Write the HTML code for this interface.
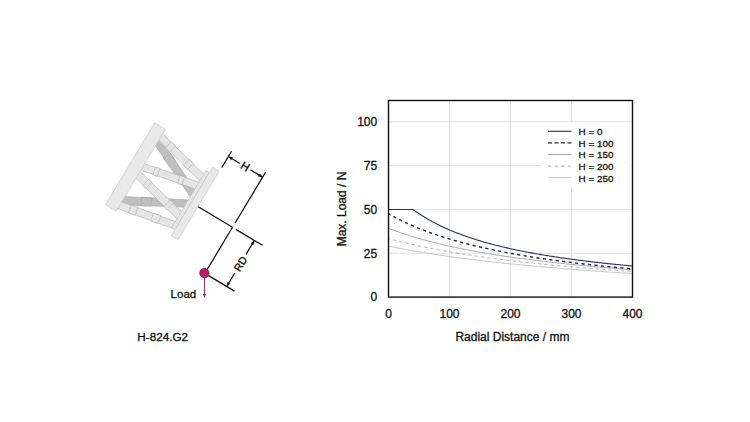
<!DOCTYPE html>
<html><head><meta charset="utf-8"><style>
html,body{margin:0;padding:0;background:#fff;}
svg{display:block;}
.t{font-family:"Liberation Sans",Arial,sans-serif;font-size:12px;fill:#111;stroke:#111;stroke-width:0.3px;}
.lg{font-family:"Liberation Sans",Arial,sans-serif;font-size:9.9px;fill:#111;stroke:#111;stroke-width:0.3px;}
.d{font-family:"Liberation Sans",Arial,sans-serif;font-size:11.5px;fill:#111;stroke:#111;stroke-width:0.3px;}
</style></head><body>
<svg width="750" height="422" viewBox="0 0 750 422">
<rect width="750" height="422" fill="#fff"/>
<g transform="translate(232.5,227.3) rotate(31)">
<polygon points="-109.00,-39.50 -51.00,-12.50 -51.00,-4.00 -109.00,-30.70" fill="#bfbfbf" stroke="#a6a6a6" stroke-width="0.6"/>
<polygon points="-90.97,-31.44 -82.86,-27.67 -86.42,-19.98 -94.55,-23.72" fill="#bfbfbf" stroke="#a6a6a6" stroke-width="0.6"/>
<polygon points="-109.00,29.50 -51.00,-1.10 -51.00,7.20 -109.00,39.00" fill="#bfbfbf" stroke="#a6a6a6" stroke-width="0.6"/>
<polygon points="-93.65,21.08 -84.91,16.47 -80.89,23.95 -89.55,28.70" fill="#bfbfbf" stroke="#a6a6a6" stroke-width="0.6"/>
<polygon points="-109.00,-44.30 -51.00,-30.50 -51.00,-22.50 -109.00,-36.80" fill="#e5e5e5" stroke="#b3b3b3" stroke-width="0.6"/>
<polygon points="-96.41,-41.82 -90.61,-40.43 -92.59,-32.24 -98.39,-33.66" fill="#e5e5e5" stroke="#b3b3b3" stroke-width="0.6"/>
<polygon points="-72.03,-36.01 -66.22,-34.63 -68.26,-26.24 -74.05,-27.66" fill="#e5e5e5" stroke="#b3b3b3" stroke-width="0.6"/>
<polygon points="-109.00,-9.00 -51.00,-21.50 -51.00,-13.80 -109.00,-1.50" fill="#e5e5e5" stroke="#b3b3b3" stroke-width="0.6"/>
<polygon points="-97.12,-12.07 -92.48,-13.07 -90.72,-4.87 -95.36,-3.88" fill="#e5e5e5" stroke="#b3b3b3" stroke-width="0.6"/>
<polygon points="-71.60,-17.57 -66.97,-18.57 -65.19,-10.28 -69.84,-9.30" fill="#e5e5e5" stroke="#b3b3b3" stroke-width="0.6"/>
<polygon points="-109.00,-0.50 -51.00,13.00 -51.00,21.50 -109.00,7.50" fill="#e5e5e5" stroke="#b3b3b3" stroke-width="0.6"/>
<polygon points="-96.38,1.93 -92.31,2.87 -94.37,11.55 -98.42,10.57" fill="#e5e5e5" stroke="#b3b3b3" stroke-width="0.6"/>
<polygon points="-67.35,8.69 -63.28,9.63 -65.40,18.54 -69.45,17.56" fill="#e5e5e5" stroke="#b3b3b3" stroke-width="0.6"/>
<polygon points="-109.00,35.50 -51.00,24.30 -51.00,31.80 -109.00,43.20" fill="#e5e5e5" stroke="#b3b3b3" stroke-width="0.6"/>
<polygon points="-98.21,32.91 -91.25,31.56 -89.63,39.90 -96.59,41.27" fill="#e5e5e5" stroke="#b3b3b3" stroke-width="0.6"/>
<polygon points="-75.01,28.43 -67.46,26.97 -65.86,35.23 -73.39,36.71" fill="#e5e5e5" stroke="#b3b3b3" stroke-width="0.6"/>
<polygon points="-120.50,-49.50 -108.00,-49.50 -108.00,46.00 -120.50,46.00" fill="#e9e9e9" stroke="#c4c4c4" stroke-width="0.6"/>
<polygon points="-52.00,-35.00 -48.00,-35.00 -48.00,32.00 -52.00,32.00" fill="#e6e6e6" stroke="#bdbdbd" stroke-width="0.6"/>
<polygon points="-48.00,-41.20 -40.30,-41.20 -40.30,38.60 -48.00,38.60" fill="#e9e9e9" stroke="#c4c4c4" stroke-width="0.6"/>
<line x1="-40" y1="0" x2="0" y2="0" stroke="#111" stroke-width="1.25"/>
<line x1="0" y1="0" x2="0" y2="53.7" stroke="#111" stroke-width="1.25"/>
<line x1="-40" y1="-45.6" x2="-40" y2="-64.7" stroke="#111" stroke-width="1.25"/>
<line x1="0" y1="-4.7" x2="0" y2="-64.3" stroke="#111" stroke-width="1.25"/>
<line x1="-40" y1="-58.5" x2="-26.5" y2="-58.5" stroke="#111" stroke-width="1.25"/>
<line x1="-14.3" y1="-58.5" x2="0" y2="-58.5" stroke="#111" stroke-width="1.25"/>
<polygon points="-40,-58.5 -35.80,-60.20 -35.80,-56.80" fill="#111"/>
<polygon points="0,-58.5 -4.20,-56.80 -4.20,-60.20" fill="#111"/>
<line x1="4" y1="0" x2="35" y2="0" stroke="#111" stroke-width="1.25"/>
<line x1="4" y1="53.7" x2="34.5" y2="53.7" stroke="#111" stroke-width="1.25"/>
<line x1="25.5" y1="0" x2="25.5" y2="16.2" stroke="#111" stroke-width="1.25"/>
<line x1="25.5" y1="38" x2="25.5" y2="53.7" stroke="#111" stroke-width="1.25"/>
<polygon points="25.5,0 27.20,4.20 23.80,4.20" fill="#111"/>
<polygon points="25.5,53.7 23.80,49.50 27.20,49.50" fill="#111"/>
<text x="-20.35" y="-54.9" text-anchor="middle" class="d" style="font-size:11.2px">H</text>
<text transform="translate(29.4,27.1) rotate(-90)" text-anchor="middle" class="d" style="font-size:10.6px">RD</text>
</g>
<line x1="204.4" y1="273.1" x2="204.4" y2="295" stroke="#a8175f" stroke-width="1"/>
<polygon points="204.4,298 202.8,294 206.0,294" fill="#a8175f"/>
<circle cx="204.4" cy="273.1" r="4.6" fill="#bd1a6b" stroke="#7e0f47" stroke-width="0.9"/>
<text x="170.6" y="297.7" class="d">Load</text>
<text x="137.3" y="340.7" class="t" style="font-size:11.7px">H-824.G2</text>
<line x1="449.50" y1="100.71" x2="449.50" y2="297.1" stroke="#e2e2e2" stroke-width="1"/>
<line x1="510.50" y1="100.71" x2="510.50" y2="297.1" stroke="#e2e2e2" stroke-width="1"/>
<line x1="571.50" y1="100.71" x2="571.50" y2="297.1" stroke="#e2e2e2" stroke-width="1"/>
<line x1="388.5" y1="253.26" x2="632.50" y2="253.26" stroke="#e2e2e2" stroke-width="1"/>
<line x1="388.5" y1="209.43" x2="632.50" y2="209.43" stroke="#e2e2e2" stroke-width="1"/>
<line x1="388.5" y1="165.59" x2="632.50" y2="165.59" stroke="#e2e2e2" stroke-width="1"/>
<line x1="388.5" y1="121.75" x2="632.50" y2="121.75" stroke="#e2e2e2" stroke-width="1"/>
<path d="M388.50,246.23 L389.72,246.47 L390.94,246.72 L392.16,246.96 L393.38,247.20 L394.60,247.44 L395.82,247.68 L397.04,247.92 L398.26,248.15 L399.48,248.38 L400.70,248.61 L401.92,248.84 L403.14,249.07 L404.36,249.29 L405.58,249.51 L406.80,249.74 L408.02,249.96 L409.24,250.17 L410.46,250.39 L411.68,250.60 L412.90,250.82 L414.12,251.03 L415.34,251.24 L416.56,251.45 L417.78,251.65 L419.00,251.86 L420.22,252.06 L421.44,252.26 L422.66,252.46 L423.88,252.66 L425.10,252.86 L426.32,253.06 L427.54,253.25 L428.76,253.44 L429.98,253.64 L431.20,253.83 L432.42,254.02 L433.64,254.20 L434.86,254.39 L436.08,254.58 L437.30,254.76 L438.52,254.94 L439.74,255.12 L440.96,255.30 L442.18,255.48 L443.40,255.66 L444.62,255.84 L445.84,256.01 L447.06,256.19 L448.28,256.36 L449.50,256.53 L450.72,256.70 L451.94,256.87 L453.16,257.04 L454.38,257.21 L455.60,257.37 L456.82,257.54 L458.04,257.70 L459.26,257.86 L460.48,258.03 L461.70,258.19 L462.92,258.35 L464.14,258.50 L465.36,258.66 L466.58,258.82 L467.80,258.97 L469.02,259.13 L470.24,259.28 L471.46,259.43 L472.68,259.58 L473.90,259.73 L475.12,259.88 L476.34,260.03 L477.56,260.18 L478.78,260.33 L480.00,260.47 L481.22,260.62 L482.44,260.76 L483.66,260.90 L484.88,261.05 L486.10,261.19 L487.32,261.33 L488.54,261.47 L489.76,261.61 L490.98,261.75 L492.20,261.88 L493.42,262.02 L494.64,262.15 L495.86,262.29 L497.08,262.42 L498.30,262.55 L499.52,262.69 L500.74,262.82 L501.96,262.95 L503.18,263.08 L504.40,263.21 L505.62,263.34 L506.84,263.46 L508.06,263.59 L509.28,263.72 L510.50,263.84 L511.72,263.97 L512.94,264.09 L514.16,264.21 L515.38,264.34 L516.60,264.46 L517.82,264.58 L519.04,264.70 L520.26,264.82 L521.48,264.94 L522.70,265.06 L523.92,265.17 L525.14,265.29 L526.36,265.41 L527.58,265.52 L528.80,265.64 L530.02,265.75 L531.24,265.87 L532.46,265.98 L533.68,266.09 L534.90,266.20 L536.12,266.32 L537.34,266.43 L538.56,266.54 L539.78,266.65 L541.00,266.76 L542.22,266.86 L543.44,266.97 L544.66,267.08 L545.88,267.19 L547.10,267.29 L548.32,267.40 L549.54,267.50 L550.76,267.61 L551.98,267.71 L553.20,267.81 L554.42,267.92 L555.64,268.02 L556.86,268.12 L558.08,268.22 L559.30,268.32 L560.52,268.42 L561.74,268.52 L562.96,268.62 L564.18,268.72 L565.40,268.82 L566.62,268.91 L567.84,269.01 L569.06,269.11 L570.28,269.20 L571.50,269.30 L572.72,269.39 L573.94,269.49 L575.16,269.58 L576.38,269.68 L577.60,269.77 L578.82,269.86 L580.04,269.95 L581.26,270.05 L582.48,270.14 L583.70,270.23 L584.92,270.32 L586.14,270.41 L587.36,270.50 L588.58,270.59 L589.80,270.68 L591.02,270.76 L592.24,270.85 L593.46,270.94 L594.68,271.03 L595.90,271.11 L597.12,271.20 L598.34,271.28 L599.56,271.37 L600.78,271.45 L602.00,271.54 L603.22,271.62 L604.44,271.71 L605.66,271.79 L606.88,271.87 L608.10,271.96 L609.32,272.04 L610.54,272.12 L611.76,272.20 L612.98,272.28 L614.20,272.36 L615.42,272.44 L616.64,272.52 L617.86,272.60 L619.08,272.68 L620.30,272.76 L621.52,272.84 L622.74,272.92 L623.96,272.99 L625.18,273.07 L626.40,273.15 L627.62,273.22 L628.84,273.30 L630.06,273.38 L631.28,273.45 L632.50,273.53" fill="none" stroke="#c2c2c7" stroke-width="1.0"/>
<path d="M388.50,238.55 L389.72,238.88 L390.94,239.21 L392.16,239.54 L393.38,239.86 L394.60,240.18 L395.82,240.49 L397.04,240.81 L398.26,241.12 L399.48,241.42 L400.70,241.73 L401.92,242.03 L403.14,242.32 L404.36,242.62 L405.58,242.91 L406.80,243.20 L408.02,243.49 L409.24,243.77 L410.46,244.05 L411.68,244.33 L412.90,244.60 L414.12,244.88 L415.34,245.15 L416.56,245.41 L417.78,245.68 L419.00,245.94 L420.22,246.20 L421.44,246.46 L422.66,246.72 L423.88,246.97 L425.10,247.22 L426.32,247.47 L427.54,247.72 L428.76,247.97 L429.98,248.21 L431.20,248.45 L432.42,248.69 L433.64,248.92 L434.86,249.16 L436.08,249.39 L437.30,249.62 L438.52,249.85 L439.74,250.08 L440.96,250.30 L442.18,250.52 L443.40,250.74 L444.62,250.96 L445.84,251.18 L447.06,251.40 L448.28,251.61 L449.50,251.82 L450.72,252.03 L451.94,252.24 L453.16,252.45 L454.38,252.65 L455.60,252.86 L456.82,253.06 L458.04,253.26 L459.26,253.46 L460.48,253.65 L461.70,253.85 L462.92,254.04 L464.14,254.24 L465.36,254.43 L466.58,254.62 L467.80,254.81 L469.02,254.99 L470.24,255.18 L471.46,255.36 L472.68,255.54 L473.90,255.72 L475.12,255.90 L476.34,256.08 L477.56,256.26 L478.78,256.44 L480.00,256.61 L481.22,256.78 L482.44,256.95 L483.66,257.13 L484.88,257.29 L486.10,257.46 L487.32,257.63 L488.54,257.79 L489.76,257.96 L490.98,258.12 L492.20,258.28 L493.42,258.45 L494.64,258.61 L495.86,258.76 L497.08,258.92 L498.30,259.08 L499.52,259.23 L500.74,259.39 L501.96,259.54 L503.18,259.69 L504.40,259.84 L505.62,259.99 L506.84,260.14 L508.06,260.29 L509.28,260.44 L510.50,260.58 L511.72,260.73 L512.94,260.87 L514.16,261.02 L515.38,261.16 L516.60,261.30 L517.82,261.44 L519.04,261.58 L520.26,261.72 L521.48,261.85 L522.70,261.99 L523.92,262.13 L525.14,262.26 L526.36,262.40 L527.58,262.53 L528.80,262.66 L530.02,262.79 L531.24,262.92 L532.46,263.05 L533.68,263.18 L534.90,263.31 L536.12,263.44 L537.34,263.56 L538.56,263.69 L539.78,263.81 L541.00,263.94 L542.22,264.06 L543.44,264.18 L544.66,264.30 L545.88,264.42 L547.10,264.54 L548.32,264.66 L549.54,264.78 L550.76,264.90 L551.98,265.02 L553.20,265.13 L554.42,265.25 L555.64,265.37 L556.86,265.48 L558.08,265.59 L559.30,265.71 L560.52,265.82 L561.74,265.93 L562.96,266.04 L564.18,266.15 L565.40,266.26 L566.62,266.37 L567.84,266.48 L569.06,266.59 L570.28,266.70 L571.50,266.80 L572.72,266.91 L573.94,267.01 L575.16,267.12 L576.38,267.22 L577.60,267.33 L578.82,267.43 L580.04,267.53 L581.26,267.63 L582.48,267.73 L583.70,267.83 L584.92,267.94 L586.14,268.03 L587.36,268.13 L588.58,268.23 L589.80,268.33 L591.02,268.43 L592.24,268.52 L593.46,268.62 L594.68,268.72 L595.90,268.81 L597.12,268.91 L598.34,269.00 L599.56,269.09 L600.78,269.19 L602.00,269.28 L603.22,269.37 L604.44,269.46 L605.66,269.55 L606.88,269.65 L608.10,269.74 L609.32,269.83 L610.54,269.91 L611.76,270.00 L612.98,270.09 L614.20,270.18 L615.42,270.27 L616.64,270.35 L617.86,270.44 L619.08,270.53 L620.30,270.61 L621.52,270.70 L622.74,270.78 L623.96,270.87 L625.18,270.95 L626.40,271.03 L627.62,271.12 L628.84,271.20 L630.06,271.28 L631.28,271.36 L632.50,271.44" fill="none" stroke="#aaaab2" stroke-width="1.0" stroke-dasharray="3.2 3.2" stroke-dashoffset="1.7"/>
<path d="M388.50,228.29 L389.72,228.76 L390.94,229.23 L392.16,229.68 L393.38,230.14 L394.60,230.58 L395.82,231.02 L397.04,231.46 L398.26,231.89 L399.48,232.31 L400.70,232.73 L401.92,233.15 L403.14,233.56 L404.36,233.96 L405.58,234.36 L406.80,234.76 L408.02,235.15 L409.24,235.53 L410.46,235.91 L411.68,236.29 L412.90,236.66 L414.12,237.03 L415.34,237.40 L416.56,237.76 L417.78,238.12 L419.00,238.47 L420.22,238.82 L421.44,239.16 L422.66,239.50 L423.88,239.84 L425.10,240.18 L426.32,240.51 L427.54,240.83 L428.76,241.16 L429.98,241.48 L431.20,241.79 L432.42,242.11 L433.64,242.42 L434.86,242.72 L436.08,243.03 L437.30,243.33 L438.52,243.63 L439.74,243.92 L440.96,244.21 L442.18,244.50 L443.40,244.79 L444.62,245.07 L445.84,245.35 L447.06,245.63 L448.28,245.90 L449.50,246.18 L450.72,246.45 L451.94,246.71 L453.16,246.98 L454.38,247.24 L455.60,247.50 L456.82,247.76 L458.04,248.01 L459.26,248.26 L460.48,248.51 L461.70,248.76 L462.92,249.01 L464.14,249.25 L465.36,249.49 L466.58,249.73 L467.80,249.96 L469.02,250.20 L470.24,250.43 L471.46,250.66 L472.68,250.89 L473.90,251.12 L475.12,251.34 L476.34,251.56 L477.56,251.78 L478.78,252.00 L480.00,252.22 L481.22,252.43 L482.44,252.64 L483.66,252.86 L484.88,253.06 L486.10,253.27 L487.32,253.48 L488.54,253.68 L489.76,253.88 L490.98,254.08 L492.20,254.28 L493.42,254.48 L494.64,254.68 L495.86,254.87 L497.08,255.06 L498.30,255.25 L499.52,255.44 L500.74,255.63 L501.96,255.82 L503.18,256.00 L504.40,256.19 L505.62,256.37 L506.84,256.55 L508.06,256.73 L509.28,256.90 L510.50,257.08 L511.72,257.26 L512.94,257.43 L514.16,257.60 L515.38,257.77 L516.60,257.94 L517.82,258.11 L519.04,258.28 L520.26,258.44 L521.48,258.61 L522.70,258.77 L523.92,258.93 L525.14,259.09 L526.36,259.25 L527.58,259.41 L528.80,259.57 L530.02,259.72 L531.24,259.88 L532.46,260.03 L533.68,260.19 L534.90,260.34 L536.12,260.49 L537.34,260.64 L538.56,260.79 L539.78,260.93 L541.00,261.08 L542.22,261.22 L543.44,261.37 L544.66,261.51 L545.88,261.65 L547.10,261.79 L548.32,261.93 L549.54,262.07 L550.76,262.21 L551.98,262.35 L553.20,262.49 L554.42,262.62 L555.64,262.76 L556.86,262.89 L558.08,263.02 L559.30,263.15 L560.52,263.28 L561.74,263.41 L562.96,263.54 L564.18,263.67 L565.40,263.80 L566.62,263.93 L567.84,264.05 L569.06,264.18 L570.28,264.30 L571.50,264.42 L572.72,264.55 L573.94,264.67 L575.16,264.79 L576.38,264.91 L577.60,265.03 L578.82,265.15 L580.04,265.27 L581.26,265.38 L582.48,265.50 L583.70,265.61 L584.92,265.73 L586.14,265.84 L587.36,265.96 L588.58,266.07 L589.80,266.18 L591.02,266.29 L592.24,266.40 L593.46,266.51 L594.68,266.62 L595.90,266.73 L597.12,266.84 L598.34,266.95 L599.56,267.05 L600.78,267.16 L602.00,267.26 L603.22,267.37 L604.44,267.47 L605.66,267.58 L606.88,267.68 L608.10,267.78 L609.32,267.88 L610.54,267.99 L611.76,268.09 L612.98,268.19 L614.20,268.28 L615.42,268.38 L616.64,268.48 L617.86,268.58 L619.08,268.68 L620.30,268.77 L621.52,268.87 L622.74,268.96 L623.96,269.06 L625.18,269.15 L626.40,269.25 L627.62,269.34 L628.84,269.43 L630.06,269.52 L631.28,269.62 L632.50,269.71" fill="none" stroke="#a4a4ad" stroke-width="1.0"/>
<path d="M388.50,213.76 L389.72,214.45 L390.94,215.13 L392.16,215.81 L393.38,216.47 L394.60,217.12 L395.82,217.76 L397.04,218.39 L398.26,219.02 L399.48,219.63 L400.70,220.24 L401.92,220.83 L403.14,221.42 L404.36,222.00 L405.58,222.58 L406.80,223.14 L408.02,223.70 L409.24,224.25 L410.46,224.79 L411.68,225.32 L412.90,225.85 L414.12,226.37 L415.34,226.89 L416.56,227.39 L417.78,227.90 L419.00,228.39 L420.22,228.88 L421.44,229.36 L422.66,229.84 L423.88,230.31 L425.10,230.77 L426.32,231.23 L427.54,231.68 L428.76,232.13 L429.98,232.57 L431.20,233.01 L432.42,233.44 L433.64,233.86 L434.86,234.29 L436.08,234.70 L437.30,235.11 L438.52,235.52 L439.74,235.92 L440.96,236.32 L442.18,236.71 L443.40,237.10 L444.62,237.48 L445.84,237.86 L447.06,238.24 L448.28,238.61 L449.50,238.98 L450.72,239.34 L451.94,239.70 L453.16,240.05 L454.38,240.40 L455.60,240.75 L456.82,241.10 L458.04,241.44 L459.26,241.77 L460.48,242.11 L461.70,242.44 L462.92,242.76 L464.14,243.08 L465.36,243.40 L466.58,243.72 L467.80,244.03 L469.02,244.34 L470.24,244.65 L471.46,244.95 L472.68,245.25 L473.90,245.55 L475.12,245.84 L476.34,246.14 L477.56,246.42 L478.78,246.71 L480.00,246.99 L481.22,247.27 L482.44,247.55 L483.66,247.83 L484.88,248.10 L486.10,248.37 L487.32,248.64 L488.54,248.90 L489.76,249.16 L490.98,249.42 L492.20,249.68 L493.42,249.94 L494.64,250.19 L495.86,250.44 L497.08,250.69 L498.30,250.93 L499.52,251.18 L500.74,251.42 L501.96,251.66 L503.18,251.89 L504.40,252.13 L505.62,252.36 L506.84,252.59 L508.06,252.82 L509.28,253.05 L510.50,253.27 L511.72,253.50 L512.94,253.72 L514.16,253.94 L515.38,254.16 L516.60,254.37 L517.82,254.58 L519.04,254.80 L520.26,255.01 L521.48,255.22 L522.70,255.42 L523.92,255.63 L525.14,255.83 L526.36,256.03 L527.58,256.23 L528.80,256.43 L530.02,256.63 L531.24,256.82 L532.46,257.02 L533.68,257.21 L534.90,257.40 L536.12,257.59 L537.34,257.78 L538.56,257.96 L539.78,258.15 L541.00,258.33 L542.22,258.51 L543.44,258.69 L544.66,258.87 L545.88,259.05 L547.10,259.22 L548.32,259.40 L549.54,259.57 L550.76,259.74 L551.98,259.91 L553.20,260.08 L554.42,260.25 L555.64,260.42 L556.86,260.59 L558.08,260.75 L559.30,260.91 L560.52,261.08 L561.74,261.24 L562.96,261.40 L564.18,261.56 L565.40,261.71 L566.62,261.87 L567.84,262.02 L569.06,262.18 L570.28,262.33 L571.50,262.48 L572.72,262.63 L573.94,262.78 L575.16,262.93 L576.38,263.08 L577.60,263.23 L578.82,263.37 L580.04,263.52 L581.26,263.66 L582.48,263.80 L583.70,263.95 L584.92,264.09 L586.14,264.23 L587.36,264.37 L588.58,264.50 L589.80,264.64 L591.02,264.78 L592.24,264.91 L593.46,265.05 L594.68,265.18 L595.90,265.31 L597.12,265.44 L598.34,265.57 L599.56,265.70 L600.78,265.83 L602.00,265.96 L603.22,266.09 L604.44,266.21 L605.66,266.34 L606.88,266.46 L608.10,266.59 L609.32,266.71 L610.54,266.83 L611.76,266.96 L612.98,267.08 L614.20,267.20 L615.42,267.32 L616.64,267.43 L617.86,267.55 L619.08,267.67 L620.30,267.79 L621.52,267.90 L622.74,268.02 L623.96,268.13 L625.18,268.24 L626.40,268.36 L627.62,268.47 L628.84,268.58 L630.06,268.69 L631.28,268.80 L632.50,268.91" fill="none" stroke="#24264a" stroke-width="1.4" stroke-dasharray="3.2 3.3" stroke-dashoffset="0.9"/>
<path d="M388.50,209.43 L389.72,209.43 L390.94,209.43 L392.16,209.43 L393.38,209.43 L394.60,209.43 L395.82,209.43 L397.04,209.43 L398.26,209.43 L399.48,209.43 L400.70,209.43 L401.92,209.43 L403.14,209.43 L404.36,209.43 L405.58,209.43 L406.80,209.43 L408.02,209.43 L409.24,209.43 L410.46,209.43 L411.68,209.43 L412.90,209.43 L414.12,210.31 L415.34,211.18 L416.56,212.03 L417.78,212.86 L419.00,213.67 L420.22,214.47 L421.44,215.26 L422.66,216.03 L423.88,216.78 L425.10,217.52 L426.32,218.25 L427.54,218.97 L428.76,219.67 L429.98,220.36 L431.20,221.03 L432.42,221.70 L433.64,222.35 L434.86,222.99 L436.08,223.62 L437.30,224.24 L438.52,224.85 L439.74,225.45 L440.96,226.04 L442.18,226.62 L443.40,227.19 L444.62,227.76 L445.84,228.31 L447.06,228.85 L448.28,229.39 L449.50,229.91 L450.72,230.43 L451.94,230.94 L453.16,231.45 L454.38,231.94 L455.60,232.43 L456.82,232.91 L458.04,233.38 L459.26,233.85 L460.48,234.31 L461.70,234.76 L462.92,235.21 L464.14,235.65 L465.36,236.08 L466.58,236.51 L467.80,236.93 L469.02,237.35 L470.24,237.76 L471.46,238.16 L472.68,238.56 L473.90,238.95 L475.12,239.34 L476.34,239.72 L477.56,240.10 L478.78,240.47 L480.00,240.84 L481.22,241.21 L482.44,241.56 L483.66,241.92 L484.88,242.27 L486.10,242.61 L487.32,242.95 L488.54,243.29 L489.76,243.62 L490.98,243.95 L492.20,244.27 L493.42,244.59 L494.64,244.91 L495.86,245.22 L497.08,245.53 L498.30,245.84 L499.52,246.14 L500.74,246.44 L501.96,246.73 L503.18,247.02 L504.40,247.31 L505.62,247.59 L506.84,247.87 L508.06,248.15 L509.28,248.43 L510.50,248.70 L511.72,248.97 L512.94,249.23 L514.16,249.49 L515.38,249.75 L516.60,250.01 L517.82,250.26 L519.04,250.52 L520.26,250.76 L521.48,251.01 L522.70,251.25 L523.92,251.49 L525.14,251.73 L526.36,251.97 L527.58,252.20 L528.80,252.43 L530.02,252.66 L531.24,252.89 L532.46,253.11 L533.68,253.33 L534.90,253.55 L536.12,253.77 L537.34,253.98 L538.56,254.20 L539.78,254.41 L541.00,254.62 L542.22,254.82 L543.44,255.03 L544.66,255.23 L545.88,255.43 L547.10,255.63 L548.32,255.83 L549.54,256.02 L550.76,256.21 L551.98,256.41 L553.20,256.59 L554.42,256.78 L555.64,256.97 L556.86,257.15 L558.08,257.33 L559.30,257.52 L560.52,257.69 L561.74,257.87 L562.96,258.05 L564.18,258.22 L565.40,258.40 L566.62,258.57 L567.84,258.74 L569.06,258.90 L570.28,259.07 L571.50,259.24 L572.72,259.40 L573.94,259.56 L575.16,259.72 L576.38,259.88 L577.60,260.04 L578.82,260.20 L580.04,260.35 L581.26,260.51 L582.48,260.66 L583.70,260.81 L584.92,260.96 L586.14,261.11 L587.36,261.26 L588.58,261.41 L589.80,261.55 L591.02,261.70 L592.24,261.84 L593.46,261.98 L594.68,262.12 L595.90,262.26 L597.12,262.40 L598.34,262.54 L599.56,262.67 L600.78,262.81 L602.00,262.94 L603.22,263.08 L604.44,263.21 L605.66,263.34 L606.88,263.47 L608.10,263.60 L609.32,263.73 L610.54,263.85 L611.76,263.98 L612.98,264.10 L614.20,264.23 L615.42,264.35 L616.64,264.47 L617.86,264.59 L619.08,264.72 L620.30,264.83 L621.52,264.95 L622.74,265.07 L623.96,265.19 L625.18,265.30 L626.40,265.42 L627.62,265.53 L628.84,265.65 L630.06,265.76 L631.28,265.87 L632.50,265.98" fill="none" stroke="#2a2e62" stroke-width="1.1"/>
<rect x="388.5" y="100.5" width="244.00" height="196.60" fill="none" stroke="#111" stroke-width="1.4"/>
<text x="377.2" y="301.40" text-anchor="end" class="t">0</text>
<text x="377.2" y="257.56" text-anchor="end" class="t">25</text>
<text x="377.2" y="213.73" text-anchor="end" class="t">50</text>
<text x="377.2" y="169.89" text-anchor="end" class="t">75</text>
<text x="377.2" y="126.05" text-anchor="end" class="t">100</text>
<text x="388.50" y="317.8" text-anchor="middle" class="t">0</text>
<text x="449.50" y="317.8" text-anchor="middle" class="t">100</text>
<text x="510.50" y="317.8" text-anchor="middle" class="t">200</text>
<text x="571.50" y="317.8" text-anchor="middle" class="t">300</text>
<text x="632.50" y="317.8" text-anchor="middle" class="t">400</text>
<text x="512.4" y="341.4" text-anchor="middle" class="t">Radial Distance / mm</text>
<text transform="translate(346.2,209) rotate(-90)" text-anchor="middle" class="t">Max. Load / N</text>
<rect x="541" y="123" width="90" height="64" fill="#fff"/>
<line x1="548" y1="131.30" x2="571.5" y2="131.30" stroke="#2a2e62" stroke-width="1.1"/>
<text x="578.6" y="134.90" class="lg">H = 0</text>
<line x1="548" y1="142.90" x2="571.5" y2="142.90" stroke="#24264a" stroke-width="1.4" stroke-dasharray="4 2.5"/>
<text x="578.6" y="146.62" class="lg">H = 100</text>
<line x1="548" y1="154.50" x2="571.5" y2="154.50" stroke="#a4a4ad" stroke-width="1.0"/>
<text x="578.6" y="158.34" class="lg">H = 150</text>
<line x1="548" y1="166.10" x2="571.5" y2="166.10" stroke="#aaaab2" stroke-width="1.0" stroke-dasharray="3.5 3"/>
<text x="578.6" y="170.06" class="lg">H = 200</text>
<line x1="548" y1="177.70" x2="571.5" y2="177.70" stroke="#c2c2c7" stroke-width="1.0"/>
<text x="578.6" y="181.78" class="lg">H = 250</text>
</svg>
</body></html>
